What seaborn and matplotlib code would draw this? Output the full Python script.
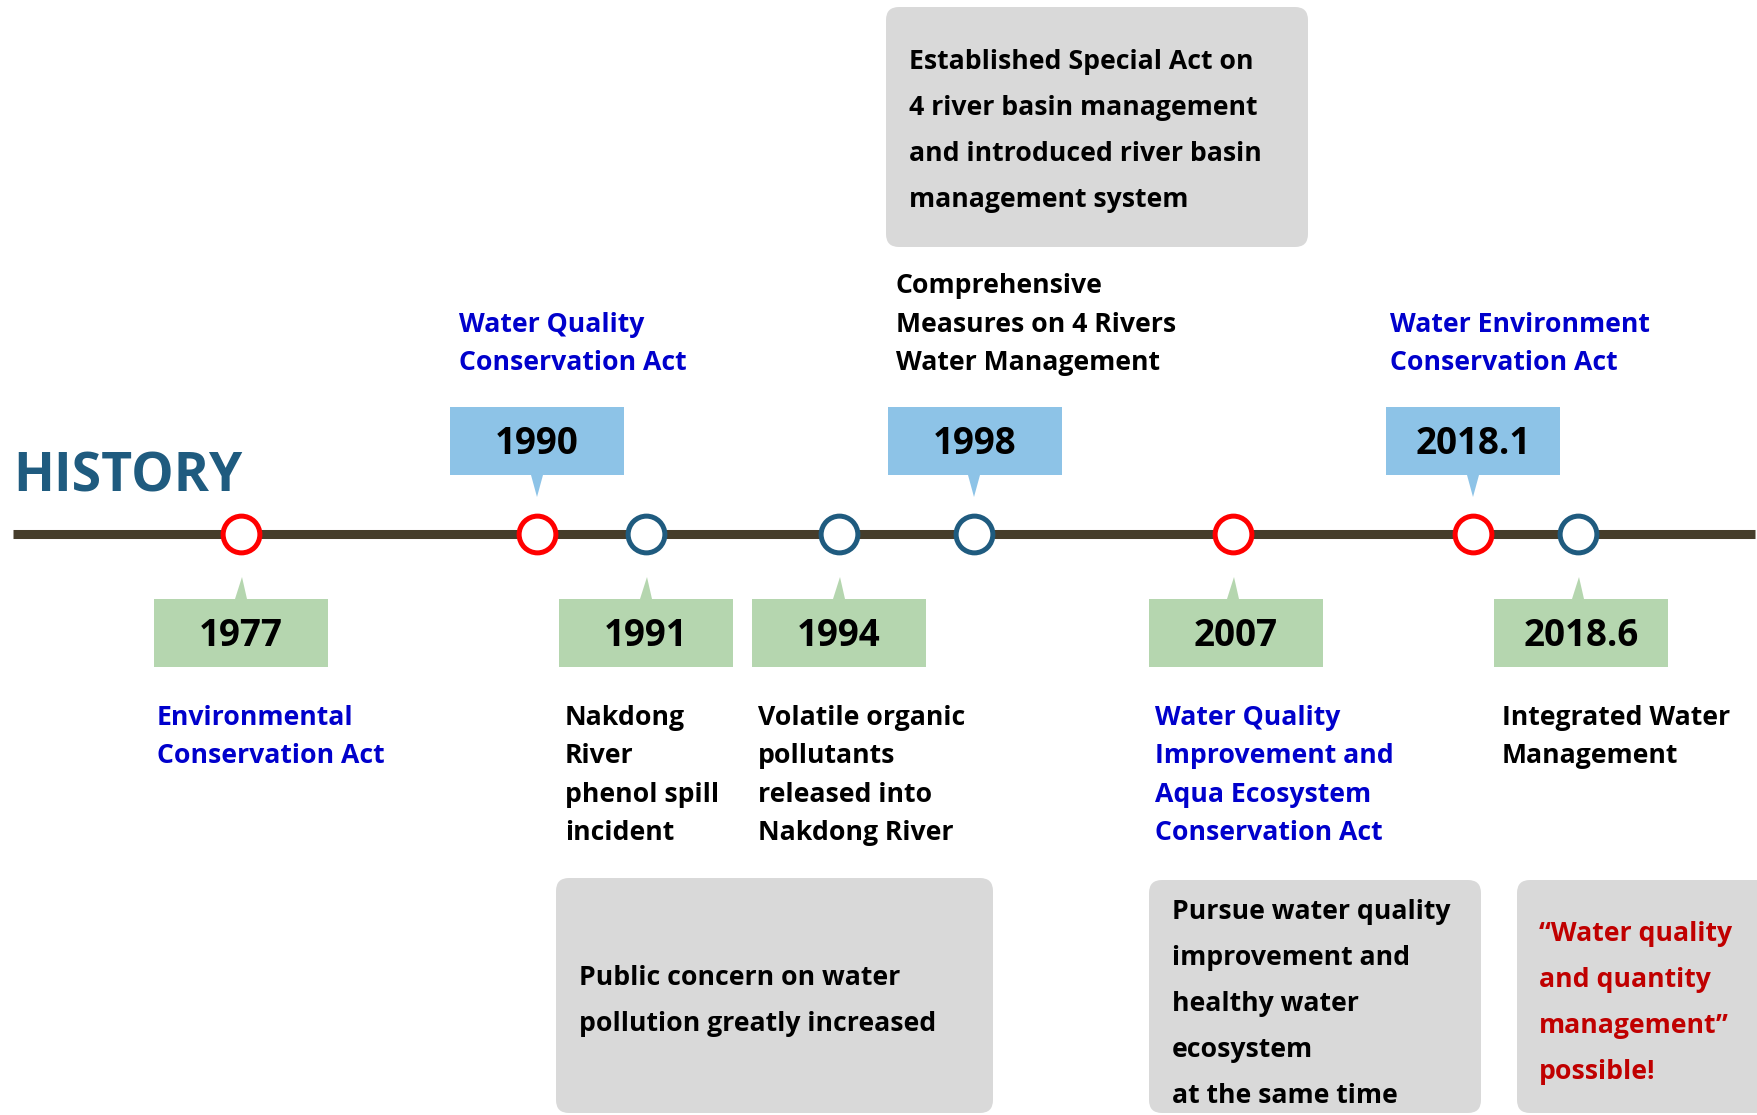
import matplotlib
matplotlib.use("Agg")
import matplotlib.pyplot as plt
from matplotlib.patches import FancyBboxPatch, Rectangle, Polygon
import seaborn as sns
import pandas as pd

# ---------------- data ----------------
years = ["1977", "1990", "1991", "1994", "1998", "2007", "2018.1", "2018.6"]
kinds = ["act", "act", "event", "event", "policy", "act", "act", "policy"]
sides = ["below", "above", "below", "below", "above", "below", "above", "below"]
labels = [
    ["Environmental", "Conservation Act"],
    ["Water Quality", "Conservation Act"],
    ["Nakdong", "River", "phenol spill", "incident"],
    ["Volatile organic", "pollutants", "released into", "Nakdong River"],
    ["Comprehensive", "Measures on 4 Rivers", "Water Management"],
    ["Water Quality", "Improvement and", "Aqua Ecosystem", "Conservation Act"],
    ["Water Environment", "Conservation Act"],
    ["Integrated Water", "Management"],
]
notes = [
    ["Established Special Act on", "4 river basin management",
     "and introduced river basin", "management system"],
    ["Public concern on water", "pollution greatly increased"],
    ["Pursue water quality", "improvement and", "healthy water",
     "ecosystem", "at the same time"],
    ["\u201cWater quality", "and quantity", "management\u201d", "possible!"],
]
title = "HISTORY"

# ---------------- layout (pixels) ----------------
W, H = 1758, 1115
event_x = [241, 537, 646, 839, 974, 1233, 1473, 1578]
box_shift = [0, 0, 0, 0, 1, 3, 0, 3]
label_x = [157, 459, 565, 758, 896, 1155, 1390, 1502]
line_y = 534
note_boxes = [(886, 7, 1308, 247), (556, 878, 993, 1113),
              (1149, 880, 1481, 1113), (1517, 880, 1775, 1113)]
note_text_x = [909, 579, 1172, 1539]
note_first_baseline = [69, 985, 919, 941]
note_colors = ["black", "black", "black", "#C00000"]

kind_edge = {"act": "#FF0000", "event": "#1F5B7F", "policy": "#1F5B7F"}
kind_text = {"act": "#0000CC", "event": "black", "policy": "black"}
box_color = {"above": "#8DC3E7", "below": "#B5D6AF"}

sns.set_theme(style="white")
plt.rcParams["font.family"] = ["Open Sans", "Noto Sans", "DejaVu Sans"]
plt.rcParams["font.weight"] = "bold"

fig = plt.figure(figsize=(W / 100, H / 100), dpi=100)
ax = fig.add_axes([0, 0, 1, 1])
ax.set_xlim(0, W)
ax.set_ylim(H, 0)
ax.axis("off")

df = pd.DataFrame({"year": years, "x": event_x, "kind": kinds,
                   "y": [line_y] * len(years)})

# timeline bar
sns.lineplot(x=[13, 1755], y=[line_y, line_y], color="#463D2B", lw=6.5,
             solid_capstyle="butt", ax=ax, zorder=1)

# circles
for kind, grp in df.groupby("kind"):
    sns.scatterplot(data=grp, x="x", y="y", s=700, color="white",
                    edgecolor=kind_edge[kind], linewidth=3.6, ax=ax,
                    zorder=3, legend=False)

# year callouts
bw, bh = 174, 68
for yr, x, side, sh in zip(years, event_x, sides, box_shift):
    fc = box_color[side]
    cx = x + sh
    if side == "above":
        top = 407
        tri = [(x - 6, top + bh), (x + 6, top + bh), (x, 497)]
    else:
        top = 599
        tri = [(x - 6, top), (x + 6, top), (x + 1, 577)]
    base = top + bh / 2 + 13
    ax.add_patch(Rectangle((cx - bw / 2, top), bw, bh, facecolor=fc,
                           edgecolor="none", zorder=2))
    ax.add_patch(Polygon(tri, closed=True, facecolor=fc, edgecolor="none",
                         zorder=2))
    ax.text(cx, base, yr, ha="center", va="baseline", fontsize=26.5,
            fontweight="bold", color="black", zorder=4)

# descriptive labels
for lines, lx, side, kind in zip(labels, label_x, sides, kinds):
    n = len(lines)
    for i, t in enumerate(lines):
        if side == "above":
            yb = 370 - (n - 1 - i) * 38.5
        else:
            yb = 725 + i * 38.3
        ax.text(lx, yb, t, ha="left", va="baseline", fontsize=19.2,
                fontweight="bold", color=kind_text[kind], zorder=4)

# grey notes
for lines, (x0, y0, x1, y1), tx, fb, col in zip(notes, note_boxes, note_text_x,
                                               note_first_baseline, note_colors):
    ax.add_patch(FancyBboxPatch((x0, y0), x1 - x0, y1 - y0,
                                boxstyle="round,pad=0,rounding_size=13",
                                facecolor="#D9D9D9", edgecolor="none",
                                zorder=1))
    for i, t in enumerate(lines):
        ax.text(tx, fb + i * 46, t, ha="left", va="baseline", fontsize=19.2,
                fontweight="bold", color=col, zorder=4)

# title
ax.text(13, 492, title, ha="left", va="baseline", fontsize=38.5,
        fontweight="bold", color="#1F5B7F", zorder=4)

fig.savefig("out.png", dpi=100)
